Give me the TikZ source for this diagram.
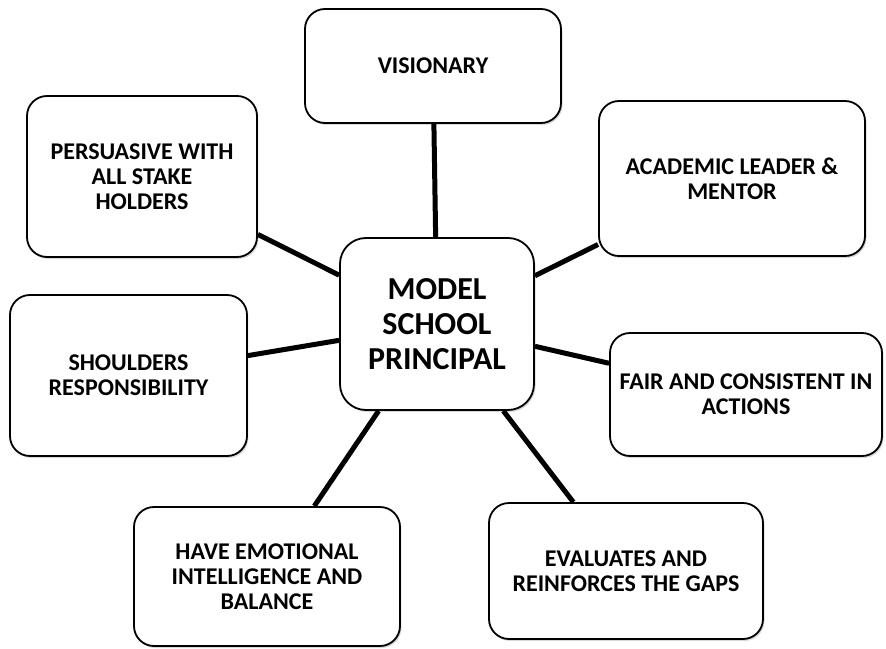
\documentclass[tikz,border=0pt]{standalone}
\usepackage{fontspec}
\setmainfont{Carlito}
\usetikzlibrary{positioning,shadows}

\begin{document}
\begin{tikzpicture}[on grid,
    trait/.style={draw, line width=1.8pt, rounded corners=20pt, fill=white, align=center,
      font=\fontsize{24}{25}\selectfont\bfseries,
      drop shadow={shadow xshift=1.5pt, shadow yshift=-2pt, opacity=0.3}},
    hub/.style={trait, rounded corners=26pt, font=\fontsize{32}{35}\selectfont\bfseries}]
   \useasboundingbox (-437pt,-324pt) rectangle (449pt,324pt);
   \node[hub, minimum width=194pt, minimum height=172pt] (main) {MODEL\\SCHOOL\\PRINCIPAL};
   \node[trait, minimum width=256pt, minimum height=114pt] (vis) [above left=258pt and 4pt of main] {VISIONARY};
   \node[trait, minimum width=230pt, minimum height=161pt] (pers) [above left=147.5pt and 295pt of main] {PERSUASIVE WITH\\ALL STAKE\\HOLDERS};
   \node[trait, minimum width=266pt, minimum height=155pt] (acad) [above right=145.5pt and 295pt of main] {ACADEMIC LEADER \&\\MENTOR};
   \node[trait, minimum width=237pt, minimum height=161pt] (shoul) [below left=51.5pt and 308.5pt of main] {SHOULDERS\\RESPONSIBILITY};
   \node[trait, minimum width=272pt, minimum height=123pt] (fair) [below right=70.5pt and 309pt of main] {FAIR AND CONSISTENT IN\\ACTIONS};
   \node[trait, minimum width=266pt, minimum height=139pt] (emo) [below left=252.5pt and 170pt of main] {HAVE EMOTIONAL\\INTELLIGENCE AND\\BALANCE};
   \node[trait, minimum width=274pt, minimum height=136pt] (eval) [below right=247pt and 189pt of main] {EVALUATES AND\\REINFORCES THE GAPS};
   \path[line width=5pt]
    (main) edge (vis)
           edge (pers)
           edge (acad)
           edge (shoul)
           edge (fair)
           edge (emo)
           edge (eval);
\end{tikzpicture}
\end{document}
